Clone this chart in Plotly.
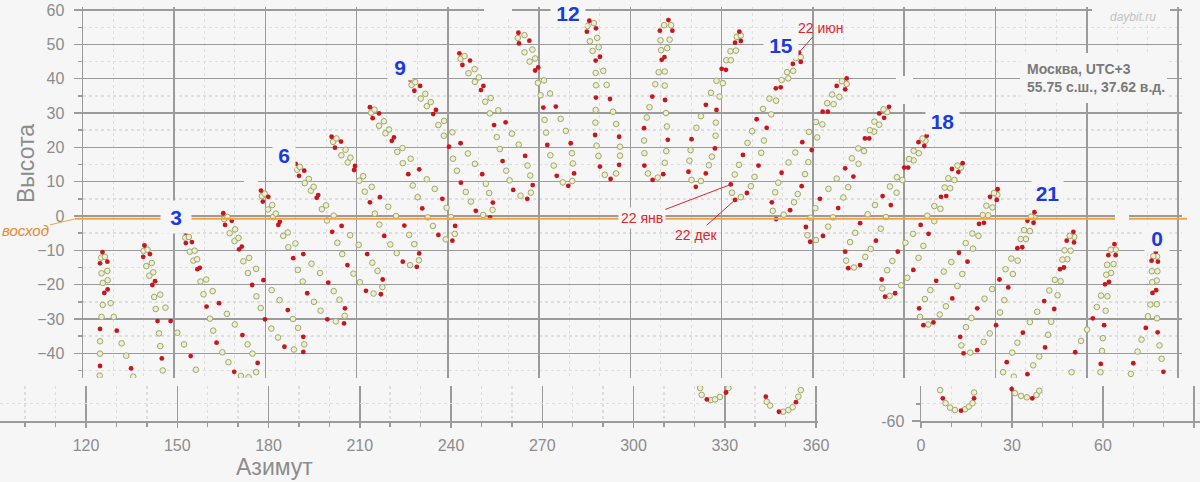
import plotly.graph_objects as go

# ---------------- data (azimuth, altitude) ----------------
RED_H01 = [(126.5,-10.5),(125.7,-13.8),(128.1,-13.3),(127.1,-22.4),(128.2,-21.4),(125.7,-32.9),(131.2,-33.4),(125.7,-43.7),(135.9,-44.4)]
HOLLOW_H01 = [(126.1,-12.1),(126.2,-16.7),(126.6,-19.5),(126.6,-25.9),(126.2,-29.4),(125.7,-36.5),(125.7,-40.1),(125.6,-46.5),(127.3,-11.9),(128.1,-16.0),(128.2,-18.7),(129.2,-25.4),(130.2,-29.4),(132.8,-37.1),(134.3,-40.7),(136.6,-46.8)]
RED_H02 = [(140.3,-8.6),(139.9,-11.9),(142.1,-11.1),(142.9,-20.1),(143.8,-19.0),(144.6,-30.6),(148.9,-30.6),(146.0,-41.5),(155.5,-40.8)]
HOLLOW_H02 = [(140.0,-10.2),(140.9,-14.6),(141.9,-17.4),(143.5,-23.6),(144.0,-27.1),(145.1,-34.2),(145.5,-37.9),(146.3,-45.0),(141.3,-9.8),(142.7,-13.7),(143.2,-16.4),(145.5,-22.9),(147.2,-26.7),(151.1,-34.0),(153.3,-37.4),(157.2,-44.8)]
RED_H03 = [(153.8,-4.8),(153.9,-7.9),(155.9,-7.6),(157.7,-15.5),(158.5,-15.1),(160.7,-26.4),(164.8,-25.4),(164.0,-36.9),(172.5,-34.7),(169.8,-45.4),(177.5,-42.8)]
HOLLOW_H03 = [(153.7,-6.3),(155.2,-10.4),(156.4,-13.0),(158.7,-19.1),(159.7,-22.8),(161.8,-29.9),(162.9,-33.4),(165.9,-39.7),(167.9,-42.6),(172.0,-46.6),(154.9,-6.1),(156.8,-10.1),(157.6,-12.6),(160.6,-18.5),(162.7,-21.9),(167.4,-28.5),(170.0,-31.6),(174.2,-37.4),(175.8,-40.1),(177.0,-45.5),(174.5,-47.0)]
RED_H04 = [(166.2,0.8),(166.8,-2.6),(169.0,-1.4),(171.4,-9.7),(172.3,-8.9),(175.7,-20.1),(179.4,-18.7),(179.9,-30.1),(187.4,-27.4),(186.3,-38.1),(192.5,-35.2),(192.5,-39.6)]
HOLLOW_H04 = [(166.5,-0.9),(168.3,-5.0),(169.9,-7.3),(172.8,-13.2),(174.3,-16.6),(177.1,-23.4),(178.5,-26.8),(182.0,-32.8),(184.2,-35.4),(189.4,-38.9),(167.6,-0.3),(170.1,-3.9),(171.2,-6.4),(174.7,-12.2),(177.0,-15.4),(182.1,-21.6),(184.7,-24.5),(189.1,-30.0),(190.8,-32.6),(192.8,-37.4)]
RED_H05 = [(178.6,7.4),(179.2,4.2),(181.0,5.6),(184.3,-2.6),(184.8,-1.7),(189.2,-12.3),(192.5,-11.1),(193.8,-22.5),(200.7,-19.4),(200.4,-30.1),(206.2,-26.9),(205.9,-31.3)]
HOLLOW_H05 = [(178.9,5.8),(180.9,1.9),(182.6,-0.3),(185.9,-5.8),(187.6,-9.1),(190.7,-15.7),(192.3,-19.1),(196.0,-25.0),(198.2,-27.6),(203.2,-30.7),(179.8,6.5),(182.3,3.2),(183.5,0.7),(187.4,-4.8),(189.9,-8.0),(195.2,-13.9),(198.0,-16.6),(202.5,-21.9),(204.4,-24.4),(206.1,-29.1)]
RED_H06 = [(190.0,15.2),(191.1,11.7),(192.8,13.2),(196.9,5.3),(197.4,6.1),(202.0,-4.6),(205.1,-2.9),(207.0,-14.3),(213.5,-11.1),(213.1,-21.8),(218.6,-18.5),(218.0,-22.8)]
HOLLOW_H06 = [(190.5,13.5),(193.0,9.6),(195.0,7.4),(198.6,2.0),(200.3,-1.3),(203.7,-7.8),(205.3,-11.1),(209.0,-16.8),(211.1,-19.3),(215.6,-22.6),(191.4,14.3),(194.3,10.8),(195.9,8.5),(200.0,3.1),(202.5,0.1),(207.9,-5.6),(210.7,-8.4),(215.2,-13.6),(216.9,-16.0),(218.5,-20.7)]
RED_H07 = [(201.8,23.1),(202.9,19.9),(204.9,21.7),(209.2,13.4),(209.5,14.6),(214.4,4.0),(217.7,5.5),(219.1,-5.8),(225.7,-2.8),(225.2,-13.3),(230.6,-10.9),(229.8,-14.8)]
HOLLOW_H07 = [(202.3,21.6),(205.0,17.7),(207.1,15.6),(210.9,10.3),(212.7,7.1),(216.0,0.7),(217.5,-2.5),(221.1,-8.3),(223.2,-10.8),(227.6,-14.3),(203.4,22.6),(206.4,19.3),(208.0,17.0),(212.2,11.6),(215.0,8.5),(220.4,2.7),(223.0,0.0),(227.3,-5.5),(229.0,-8.2),(230.5,-12.9)]
RED_H08 = [(214.4,31.7),(215.3,28.5),(217.4,29.9),(221.6,21.9),(222.3,22.9),(227.0,12.2),(230.6,13.6),(231.6,2.2),(238.2,5.0),(236.9,-5.5),(242.4,-2.9),(241.5,-7.2)]
HOLLOW_H08 = [(214.8,30.1),(217.4,26.3),(219.5,24.1),(223.4,18.7),(225.2,15.4),(228.5,8.9),(230.1,5.5),(233.4,-0.4),(235.1,-2.9),(239.3,-6.8),(215.9,31.0),(219.0,27.6),(220.7,25.2),(225.1,19.8),(227.8,16.7),(233.1,10.7),(235.7,7.9),(239.6,2.4),(241.0,-0.3),(242.3,-5.2)]
RED_H09 = [(227.6,39.8),(229.0,36.5),(230.9,37.9),(235.2,29.7),(236.1,30.9),(240.4,20.2),(244.2,21.2),(244.3,9.7),(251.3,12.2),(249.2,1.5),(254.8,3.9),(253.9,-0.4)]
HOLLOW_H09 = [(228.1,38.2),(231.1,34.2),(233.1,32.0),(236.9,26.5),(238.7,23.4),(241.7,16.7),(243.0,13.2),(245.9,7.0),(247.6,4.2),(251.6,0.3),(229.3,39.0),(232.6,35.6),(234.4,33.2),(238.8,27.7),(241.5,24.4),(246.6,18.2),(248.9,15.2),(252.5,9.4),(253.6,6.7),(254.7,1.8)]
RED_H10 = [(243.8,47.4),(244.8,44.0),(247.3,45.3),(250.9,36.7),(251.7,37.9),(255.2,26.5),(259.0,27.3),(258.0,16.0),(265.4,17.5),(261.5,7.6),(267.9,9.0),(266.1,5.0)]
HOLLOW_H10 = [(244.2,45.8),(246.8,41.6),(248.9,39.1),(252.3,33.3),(253.8,29.9),(256.1,23.0),(257.1,19.5),(259.2,13.2),(260.3,10.4),(263.9,5.9),(245.5,46.6),(248.8,42.8),(250.2,40.4),(254.1,34.4),(256.6,30.8),(261.1,24.0),(263.3,20.8),(266.2,14.7),(267.1,11.8),(267.3,6.8)]
RED_H11 = [(263.2,53.4),(263.4,50.3),(266.8,51.1),(268.7,42.4),(269.7,43.3),(271.4,31.6),(275.5,31.9),(272.7,20.7),(280.4,21.2),(275.8,11.7),(281.5,12.4),(279.6,8.8)]
HOLLOW_H11 = [(263.0,51.9),(265.2,47.7),(266.9,45.0),(269.6,38.8),(270.5,35.2),(271.8,28.0),(272.3,24.3),(273.7,17.7),(274.8,14.7),(277.8,9.8),(265.2,52.7),(267.8,48.5),(268.7,45.9),(271.6,39.5),(273.6,35.7),(277.1,28.3),(278.8,24.8),(280.8,18.3),(281.1,15.3),(280.9,10.2)]
RED_H12 = [(286.5,56.9),(285.7,53.7),(288.7,54.7),(288.6,45.3),(290.0,46.4),(288.7,34.5),(293.3,34.1),(288.4,23.6),(296.3,23.1),(290.0,14.4),(296.3,14.9),(293.5,10.8)]
HOLLOW_H12 = [(285.9,55.4),(286.7,50.9),(287.6,48.1),(288.6,41.7),(288.7,38.1),(288.6,30.9),(288.5,27.2),(288.9,20.5),(289.5,17.5),(291.6,12.0),(288.0,56.2),(289.1,51.9),(289.6,49.2),(291.1,42.3),(292.2,38.2),(294.3,30.4),(295.3,26.8),(296.6,20.2),(296.6,17.6),(295.3,12.4)]
RED_H13 = [(312.5,57.1),(309.7,54.0),(313.8,54.0),(310.3,45.5),(311.2,46.3),(307.2,34.8),(311.4,33.8),(304.5,25.6),(312.3,22.2),(304.6,14.7),(310.8,12.2),(307.3,10.5)]
HOLLOW_H13 = [(311.1,55.6),(309.9,51.2),(310.1,48.3),(309.3,41.9),(308.2,38.4),(306.3,31.7),(305.4,28.7),(304.5,22.0),(304.6,18.3),(305.8,12.4),(313.4,55.6),(312.9,51.4),(312.1,48.9),(311.3,42.1),(311.3,38.0),(311.7,30.0),(312.0,26.1),(311.8,18.9),(311.3,15.5),(309.0,11.2)]
RED_H14 = [(335.8,53.7),(334.4,50.5),(336.3,51.0),(330.0,42.9),(331.4,42.6),(324.8,32.4),(328.3,30.9),(320.1,22.4),(327.8,19.7),(319.1,12.9),(324.8,12.4),(321.5,8.5)]
HOLLOW_H14 = [(335.0,52.2),(332.9,48.0),(331.5,45.4),(328.3,39.4),(326.5,35.9),(323.2,29.1),(321.7,25.7),(319.8,19.2),(319.4,16.1),(320.1,10.5),(336.3,52.6),(334.7,48.2),(333.0,45.4),(330.4,38.7),(329.3,34.8),(328.1,27.2),(328.0,23.4),(326.8,17.3),(325.8,14.8),(323.2,10.2)]
RED_H15 = [(355.4,47.6),(353.4,44.3),(356.0,44.9),(347.8,37.2),(349.4,37.5),(341.5,28.2),(344.8,25.7),(337.0,17.8),(342.1,14.7),(333.0,9.2),(338.3,6.7),(334.4,4.7)]
HOLLOW_H15 = [(354.4,46.0),(351.5,41.9),(349.7,39.6),(345.7,34.2),(343.6,31.2),(340.0,24.7),(338.5,21.3),(335.7,14.9),(334.3,12.1),(333.4,6.8),(356.0,46.3),(353.5,42.3),(351.9,40.1),(347.9,33.6),(346.3,29.6),(343.9,22.0),(343.0,18.4),(340.8,11.4),(339.6,8.7),(336.3,5.5)]
RED_H16 = [(371.1,40.1),(367.8,37.9),(370.6,36.9),(363.2,30.4),(364.9,30.4),(356.5,21.5),(359.6,19.2),(349.7,12.6),(356.3,8.7),(346.5,4.0),(352.5,1.7),(347.9,-0.9)]
HOLLOW_H16 = [(369.5,39.3),(366.3,35.4),(364.7,32.9),(361.0,27.4),(358.7,24.5),(354.2,18.5),(352.0,15.6),(348.6,9.7),(347.6,6.9),(346.8,1.5),(371.1,38.5),(368.7,34.7),(366.8,32.6),(363.1,26.7),(361.4,22.9),(358.5,15.7),(357.4,12.2),(355.0,6.4),(353.8,4.0),(350.4,0.4)]
RED_H17 = [(385.0,31.8),(383.4,28.6),(381.8,29.9),(378.5,22.6),(377.1,22.6),(373.3,11.5),(370.6,13.9),(368.3,2.3),(362.3,5.0),(363.3,-5.8),(357.7,-3.2),(359.1,-7.5)]
HOLLOW_H17 = [(384.4,30.3),(381.8,26.6),(380.1,24.6),(376.8,18.9),(375.0,15.2),(371.6,8.4),(370.0,5.4),(366.6,-0.4),(365.0,-3.1),(361.0,-7.0),(383.2,31.1),(380.2,27.5),(378.7,25.0),(374.9,19.7),(372.8,16.8),(367.8,10.9),(365.1,7.9),(360.8,2.3),(359.2,-0.5),(358.2,-5.6)]
RED_H18 = [(397.4,23.4),(396.6,20.4),(394.7,21.5),(391.3,14.1),(390.0,14.1),(385.6,3.2),(382.9,5.8),(380.7,-7.2),(375.5,-2.1),(375.5,-14.3),(370.6,-10.4),(371.6,-15.2)]
HOLLOW_H18 = [(397.0,21.9),(394.8,18.3),(393.1,16.2),(389.4,10.5),(387.5,6.8),(384.0,-0.3),(382.3,-3.7),(379.0,-9.6),(377.2,-11.9),(373.5,-15.0),(396.0,22.6),(393.1,19.0),(391.6,16.6),(387.6,11.3),(385.3,8.6),(380.4,3.2),(378.0,0.5),(373.9,-4.9),(372.2,-7.6),(370.9,-13.0)]
RED_H19 = [(409.2,15.4),(407.8,12.8),(405.7,13.7),(403.8,5.8),(402.1,5.6),(398.0,-5.2),(395.4,-2.6),(393.0,-15.7),(387.9,-10.4),(387.0,-22.5),(382.6,-18.5),(383.7,-23.5)]
HOLLOW_H19 = [(408.6,14.1),(406.5,10.5),(405.1,8.1),(401.9,2.1),(399.9,-1.5),(396.3,-8.7),(394.7,-12.2),(391.0,-18.0),(389.0,-20.2),(385.2,-23.3),(407.5,14.7),(404.5,11.0),(403.3,8.3),(399.9,2.9),(397.6,0.1),(392.9,-5.2),(390.4,-7.8),(386.1,-13.1),(384.4,-15.8),(382.8,-21.1)]
RED_H20 = [(420.7,7.8),(420.4,4.7),(418.2,5.6),(416.2,-2.0),(414.6,-2.3),(410.8,-13.3),(408.0,-10.7),(405.8,-24.0),(400.5,-18.9),(399.6,-31.0),(394.9,-26.9),(396.3,-31.8)]
HOLLOW_H20 = [(420.6,6.2),(419.0,2.5),(417.6,0.2),(414.4,-5.8),(412.6,-9.5),(409.1,-16.9),(407.5,-20.4),(403.7,-26.3),(401.7,-28.7),(397.9,-31.6),(419.5,6.7),(417.0,3.0),(415.8,0.3),(412.4,-5.1),(410.2,-7.9),(405.5,-13.4),(403.0,-16.2),(398.6,-21.6),(396.8,-24.2),(395.2,-29.4)]
RED_H21 = [(432.8,1.1),(432.5,-2.0),(430.5,-1.4),(428.8,-9.1),(427.2,-9.4),(424.2,-20.8),(421.3,-18.5),(420.2,-31.8),(414.0,-26.9),(414.0,-39.1),(408.4,-35.2),(409.5,-40.0)]
HOLLOW_H21 = [(432.8,-0.5),(431.3,-4.4),(430.0,-6.7),(427.3,-13.0),(425.7,-16.9),(422.9,-24.5),(421.5,-28.1),(418.1,-34.2),(416.1,-36.7),(411.7,-39.8),(431.7,-0.2),(429.4,-4.1),(428.3,-6.7),(425.2,-12.4),(423.3,-15.5),(418.9,-21.3),(416.4,-24.1),(412.1,-29.7),(410.3,-32.4),(408.8,-37.7)]
RED_H22 = [(445.6,-4.6),(445.8,-7.7),(443.4,-7.2),(442.5,-15.0),(441.2,-15.5),(439.3,-27.1),(436.0,-24.8),(436.3,-38.3),(429.0,-34.0),(430.5,-46.1),(423.7,-42.6)]
HOLLOW_H22 = [(445.9,-6.1),(444.7,-10.1),(443.6,-12.6),(441.4,-19.0),(440.4,-23.1),(438.3,-30.8),(437.3,-34.6),(434.4,-40.9),(432.4,-43.5),(444.4,-5.8),(442.7,-10.0),(442.0,-12.7),(439.5,-18.6),(437.7,-21.7),(433.7,-27.9),(431.3,-30.9),(427.2,-36.9),(425.5,-39.8),(422.5,-45.5),(426.0,-46.8)]
RED_H23 = [(459.1,-8.2),(459.5,-11.4),(457.1,-11.4),(457.3,-19.2),(456.0,-19.9),(455.7,-31.8),(452.0,-29.8),(454.6,-43.1),(446.2,-39.7)]
HOLLOW_H23 = [(459.5,-9.8),(458.8,-14.0),(458.0,-16.6),(456.8,-23.4),(456.2,-27.6),(455.3,-35.6),(455.0,-39.3),(454.5,-45.5),(457.9,-9.8),(456.7,-14.2),(456.4,-17.1),(454.7,-23.2),(453.3,-26.5),(450.1,-33.1),(448.1,-36.4),(445.0,-45.5)]
RED_H00 = [(472.7,-10.4),(473.4,-13.3),(471.3,-13.0),(472.8,-21.6),(471.6,-22.4),(473.3,-33.9),(469.4,-32.6),(475.2,-45.4),(465.3,-42.9)]
HOLLOW_H00 = [(473.1,-11.8),(473.2,-16.1),(473.0,-18.8),(473.0,-25.7),(473.1,-29.8),(473.9,-37.7),(474.6,-41.6),(471.9,-11.7),(471.4,-16.1),(471.5,-19.3),(470.9,-25.8),(470.1,-29.2),(468.0,-36.0),(466.7,-39.5),(464.5,-46.0)]

# bottom strip (separate axes, as in the picture)
STRIP_L_RED = [(324.1,-53.7),(330.4,-51.7),(343.5,-52.9),(347.8,-57.3),(353.4,-54.5)]
STRIP_L_HOLLOW = [(321.9,-50.4),(322.4,-52.4),(325.4,-53.9),(326.8,-53.7),(328.4,-53.0),(331.2,-50.4),(343.8,-54.4),(344.9,-55.5),(349.2,-57.3),(350.9,-56.8),(352.3,-56.0),(354.2,-52.9),(355.0,-51.0)]
STRIP_R_RED = [(7.2,-53.4),(13.2,-57.0),(17.5,-53.4),(29.9,-50.7),(36.7,-53.4)]
STRIP_R_HOLLOW = [(6.3,-51.0),(8.1,-54.8),(9.6,-56.1),(11.2,-56.8),(14.5,-56.6),(15.8,-55.8),(17.0,-54.8),(17.5,-51.7),(31.0,-51.9),(33.0,-52.7),(34.9,-53.1),(38.1,-52.4),(39.0,-51.2)]

HOUR_LABELS = ["3", "6", "9", "12", "15", "18", "21", "0"]
X_TICKS_LEFT = [120, 150, 180, 210, 240, 270, 300, 330, 360]
X_TICKS_RIGHT = [0, 30, 60, 90]
HORIZON_ALT = -0.83

RED_SETS = [RED_H01, RED_H02, RED_H03, RED_H04, RED_H05, RED_H06, RED_H07, RED_H08,
            RED_H09, RED_H10, RED_H11, RED_H12, RED_H13, RED_H14, RED_H15, RED_H16,
            RED_H17, RED_H18, RED_H19, RED_H20, RED_H21, RED_H22, RED_H23, RED_H00]
HOLLOW_SETS = [HOLLOW_H01, HOLLOW_H02, HOLLOW_H03, HOLLOW_H04, HOLLOW_H05, HOLLOW_H06,
               HOLLOW_H07, HOLLOW_H08, HOLLOW_H09, HOLLOW_H10, HOLLOW_H11, HOLLOW_H12,
               HOLLOW_H13, HOLLOW_H14, HOLLOW_H15, HOLLOW_H16, HOLLOW_H17, HOLLOW_H18,
               HOLLOW_H19, HOLLOW_H20, HOLLOW_H21, HOLLOW_H22, HOLLOW_H23, HOLLOW_H00]

# ---------------- styling / layout ----------------
W, H = 1200, 482
BG = "#f6f6f6"
GRID = "#9b9b9b"
MINOR = "#dedede"
TXT = "#8c8c8c"
FONT = "Arial, 'Liberation Sans', sans-serif"
HOLLOW_STYLE = dict(size=5.6, color="#eceed6", line=dict(color="#a2a865", width=1))
RED_STYLE = dict(size=4.8, color="#c8161d", line=dict(width=0))


def px(x):
    return x / W


def py(y):
    return 1 - y / H


# main plot geometry
XA_RANGE = [120.1, 481.3]
YA_RANGE = [-47.2, 60.9]
XA_DOM = [83 / W, 1182 / W]
YA_DOM = [py(378), py(7)]


def pix2az(x):
    return XA_RANGE[0] + (x - 83) / (1182 - 83) * (XA_RANGE[1] - XA_RANGE[0])


def pix2alt(y):
    return YA_RANGE[1] - (y - 7) / (378 - 7) * (YA_RANGE[1] - YA_RANGE[0])


def flat(sets, i):
    out = []
    for s in sets:
        out += [p[i] for p in s]
    return out


fig = go.Figure()
fig.add_trace(go.Scatter(x=flat(HOLLOW_SETS, 0), y=flat(HOLLOW_SETS, 1), mode="markers",
                         marker=HOLLOW_STYLE, xaxis="x", yaxis="y", hoverinfo="skip"))
fig.add_trace(go.Scatter(x=flat(RED_SETS, 0), y=flat(RED_SETS, 1), mode="markers",
                         marker=RED_STYLE, xaxis="x", yaxis="y", hoverinfo="skip"))
fig.add_trace(go.Scatter(x=[p[0] for p in STRIP_L_HOLLOW], y=[p[1] for p in STRIP_L_HOLLOW],
                         mode="markers", marker=HOLLOW_STYLE, xaxis="x2", yaxis="y2"))
fig.add_trace(go.Scatter(x=[p[0] for p in STRIP_L_RED], y=[p[1] for p in STRIP_L_RED],
                         mode="markers", marker=RED_STYLE, xaxis="x2", yaxis="y2"))
fig.add_trace(go.Scatter(x=[p[0] for p in STRIP_R_HOLLOW], y=[p[1] for p in STRIP_R_HOLLOW],
                         mode="markers", marker=HOLLOW_STYLE, xaxis="x3", yaxis="y3"))
fig.add_trace(go.Scatter(x=[p[0] for p in STRIP_R_RED], y=[p[1] for p in STRIP_R_RED],
                         mode="markers", marker=RED_STYLE, xaxis="x3", yaxis="y3"))

minor_x = dict(tick0=0, dtick=10, showgrid=True, gridcolor=MINOR, griddash="dot", gridwidth=1)
strip_dom = [py(421), py(386)]
strip_x_common = dict(ticks="outside", ticklen=5, tickcolor=GRID, tickwidth=1.5,
                      showline=True, linecolor=GRID, linewidth=2, showgrid=True, gridcolor=GRID,
                      gridwidth=1.5, zeroline=False, tickfont=dict(size=16, color=TXT),
                      ticklabelstandoff=4,
                      minor=dict(tick0=0, dtick=10, ticks="outside", ticklen=4, tickcolor=GRID,
                                 showgrid=True, gridcolor=MINOR, griddash="dot"))

fig.update_layout(
    width=W, height=H, margin=dict(l=0, r=0, t=0, b=0, autoexpand=False),
    paper_bgcolor=BG, plot_bgcolor=BG, showlegend=False,
    font=dict(family=FONT, color=TXT),
    xaxis=dict(domain=XA_DOM, range=XA_RANGE, anchor="y", tick0=0, dtick=30,
               showticklabels=False, ticks="", showgrid=True, gridcolor=GRID, gridwidth=1.5,
               zeroline=False, showline=False, minor=minor_x),
    yaxis=dict(domain=YA_DOM, range=YA_RANGE, anchor="x", tick0=0, dtick=10,
               ticks="outside", ticklen=8, tickcolor=GRID, tickwidth=1.5,
               showline=True, linecolor=GRID, linewidth=1.5,
               showgrid=True, gridcolor=GRID, gridwidth=1.5, zeroline=False,
               tickfont=dict(size=16, color=TXT), ticklabelstandoff=6,
               minor=dict(tick0=0, dtick=5, ticks="outside", ticklen=4, tickcolor=GRID,
                          showgrid=True, gridcolor=MINOR, griddash="dot")),
    xaxis2=dict(domain=[0, 818 / W], range=[91.7, 360.65], anchor="y2",
                tickvals=X_TICKS_LEFT, **strip_x_common),
    yaxis2=dict(domain=strip_dom, range=[-60, -49.8], anchor="x2", tickvals=[-55],
                showticklabels=False, ticks="", showgrid=True, gridcolor=MINOR, griddash="dot",
                zeroline=False, showline=False),
    xaxis3=dict(domain=[921 / W, 1], range=[0, 92], anchor="y3",
                tickvals=X_TICKS_RIGHT, **strip_x_common),
    yaxis3=dict(domain=strip_dom, range=[-60, -49.8], anchor="x3", tickvals=[-60],
                ticktext=["-60"], ticks="outside", ticklen=8, tickcolor=GRID, tickwidth=1.5,
                showline=True, linecolor=GRID, linewidth=1.5, showgrid=False, zeroline=False,
                tickfont=dict(size=16, color=TXT), ticklabelstandoff=4,
                minor=dict(tickmode="array", tickvals=[-55], ticks="outside", ticklen=4,
                           tickcolor=GRID, showgrid=True, gridcolor=MINOR, griddash="dot")),
)

shapes = []
# horizon (sunrise) line
shapes.append(dict(type="line", xref="paper", yref="y", x0=px(75), x1=px(1187),
                   y0=HORIZON_ALT, y1=HORIZON_ALT, line=dict(color="#f4a340", width=2), layer="above"))
# background-coloured boxes that interrupt grid lines (as in the picture)
for (x0, y0, x1, y1) in [(484, 5, 512, 17), (244, 177, 258, 186), (896, 76, 913, 104),
                         (1115, 213, 1129, 224), (1020, 53, 1167, 103), (1092, 0, 1170, 25)]:
    shapes.append(dict(type="rect", xref="x", yref="y", x0=pix2az(x0), x1=pix2az(x1),
                       y0=pix2alt(y1), y1=pix2alt(y0), fillcolor=BG, line=dict(width=0),
                       layer="above"))
fig.update_layout(shapes=shapes)

ann = []
# hour labels (position in pixels, box width, box height)
HOUR_POS = [(176, 217, 30, 32), (284, 155, 22, 26), (400, 67, 24, 26), (568, 13, 34, 26),
            (781, 44.5, 34, 26), (942, 121, 33, 26), (1047, 193, 31, 26), (1157, 237.5, 24, 26)]
for lab, (x, y, w, h) in zip(HOUR_LABELS, HOUR_POS):
    ann.append(dict(text="<b>%s</b>" % lab, xref="paper", yref="paper", x=px(x), y=py(y),
                    xanchor="center", yanchor="middle", showarrow=False,
                    font=dict(size=21, color="#1a3be0", family=FONT),
                    bgcolor=BG, width=w, height=h, borderpad=0))

RED_TXT = "#e3242b"
tip = RED_H15[0]
jan = RED_H15[9]
dec = RED_H15[-1]
ann.append(dict(text="22 июн", x=tip[0], y=tip[1], xref="x", yref="y", ax=22, ay=-25,
                showarrow=True, arrowhead=0, arrowwidth=1, arrowcolor=RED_TXT,
                font=dict(size=14, color=RED_TXT)))
ann.append(dict(text="22 янв", x=jan[0], y=jan[1], xref="x", yref="y", ax=-89, ay=34,
                showarrow=True, arrowhead=0, arrowwidth=1, arrowcolor=RED_TXT,
                font=dict(size=14, color=RED_TXT), bgcolor=BG, borderpad=2))
ann.append(dict(text="22 дек", x=dec[0], y=dec[1], xref="x", yref="y", ax=-39, ay=35,
                showarrow=True, arrowhead=0, arrowwidth=1, arrowcolor=RED_TXT,
                font=dict(size=14, color=RED_TXT)))
ann.append(dict(text="<i>восход</i>", x=px(75), y=HORIZON_ALT, xref="paper", yref="y",
                ax=-50, ay=12, showarrow=True, arrowhead=0, arrowwidth=1,
                arrowcolor="#f4a340", font=dict(size=15, color="#e8892a")))
ann.append(dict(text="<b>Москва, UTC+3<br>55.75 с.ш., 37.62 в.д.</b>", xref="paper", yref="paper",
                x=px(1025), y=py(78.5), xanchor="left", yanchor="middle", align="left",
                showarrow=False, font=dict(size=14, color="#7a7a7a")))
ann.append(dict(text="<i>daybit.ru</i>", xref="paper", yref="paper", x=px(1133), y=py(17),
                xanchor="center", yanchor="middle", showarrow=False,
                font=dict(size=12, color="#c2c2c2")))
ann.append(dict(text="Высота", xref="paper", yref="paper", x=px(26), y=py(164), textangle=-90,
                xanchor="center", yanchor="middle", showarrow=False,
                font=dict(size=23, color=TXT)))
ann.append(dict(text="Азимут", xref="paper", yref="paper", x=px(274), y=py(467),
                xanchor="center", yanchor="middle", showarrow=False,
                font=dict(size=23, color=TXT)))
fig.update_layout(annotations=ann)

fig.write_html("out.html",
               config={"displayModeBar": False, "staticPlot": True},
               post_script="document.body.style.margin='0';document.body.style.padding='0';"
                           "document.body.style.overflow='hidden';"
                           "document.body.style.background='" + BG + "';")
